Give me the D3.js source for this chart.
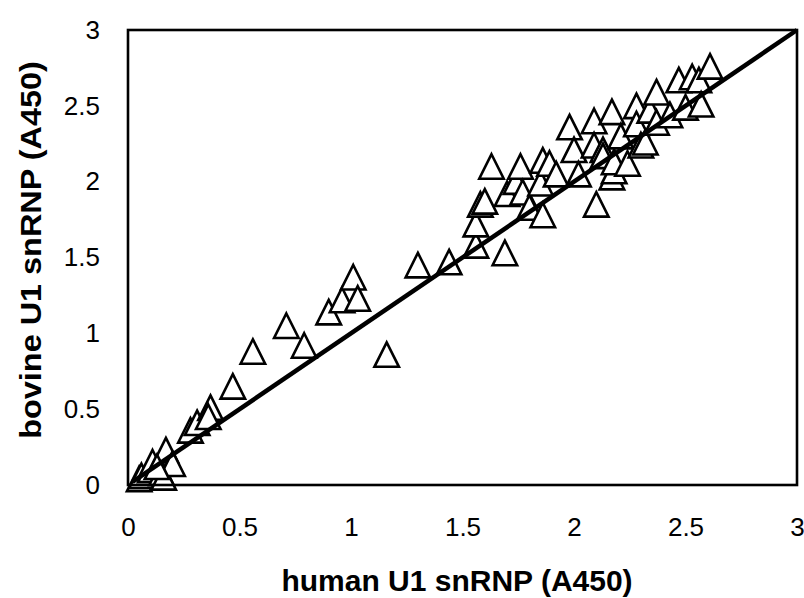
<!DOCTYPE html>
<html>
<head>
<meta charset="utf-8">
<script src="https://cdn.jsdelivr.net/npm/d3@7"></script>
<style>
  html, body { margin: 0; padding: 0; background: #fff; }
  svg { display: block; }
</style>
</head>
<body>
<svg id="chart" width="804" height="598"></svg>
<script>
// ---- data ----
const xTicks = [0, 0.5, 1, 1.5, 2, 2.5, 3];
const yTicks = [0, 0.5, 1, 1.5, 2, 2.5, 3];
const xTitle = "human U1 snRNP (A450)";
const yTitle = "bovine U1 snRNP (A450)";
const humanValues = [
  0.05, 0.06, 0.10, 0.11, 0.15, 0.16, 0.17, 0.20, 0.13,
  0.28, 0.31, 0.37, 0.36, 0.47,
  0.56, 0.71, 0.79, 0.90, 0.96, 1.01, 1.03, 1.16,
  1.30, 1.44,
  1.56, 1.56, 1.58, 1.60, 1.63, 1.69, 1.70, 1.74, 1.76, 1.77, 1.80, 1.85, 1.86, 1.86, 1.89, 1.92,
  1.98, 2.00, 2.02, 2.09, 2.09, 2.10, 2.13, 2.13, 2.17, 2.17, 2.18, 2.18, 2.21, 2.24,
  2.28, 2.28, 2.30, 2.32, 2.34, 2.37, 2.37, 2.43, 2.47, 2.50, 2.53, 2.56, 2.57, 2.61
];
const bovineValues = [
  0.04, 0.06, 0.10, 0.15, 0.08, 0.05, 0.23, 0.14, 0.12,
  0.36, 0.41, 0.51, 0.45, 0.65,
  0.88, 1.05, 0.92, 1.14, 1.22, 1.37, 1.23, 0.86,
  1.45, 1.47,
  1.58, 1.72, 1.85, 1.87, 2.10, 1.53, 1.92, 2.00, 2.10, 1.93, 1.83, 1.99, 1.78, 2.14, 2.12, 2.05,
  2.36, 2.21, 2.05, 2.40, 2.24, 1.85, 2.21, 2.17, 2.46, 2.03, 2.07, 2.13, 2.30, 2.12,
  2.50, 2.38, 2.24, 2.26, 2.47, 2.59, 2.39, 2.44, 2.67, 2.49, 2.69, 2.67, 2.51, 2.76
];
const fitLine = [[0.02, 0.02], [3, 3]];

// ---- layout ----
const svg = d3.select("#chart");
const L = 128, T = 30, R = 797, B = 485;
const x = d3.scaleLinear().domain([0, 3]).range([L, R]);
const y = d3.scaleLinear().domain([0, 3]).range([B, T]);

const points = humanValues.map((h, i) => ({ h, b: bovineValues[i] }));

// markers
const w = 24.5, hgt = 24.5;
svg.append("g").selectAll("path").data(points).join("path")
  .attr("transform", d => `translate(${x(d.h)},${y(d.b)})`)
  .attr("d", `M0,${-hgt/2}L${w/2},${hgt/2}L${-w/2},${hgt/2}Z`)
  .attr("fill", "#fff")
  .attr("stroke", "#000")
  .attr("stroke-width", 2.6)
  .attr("stroke-linejoin", "miter");

// fit line
svg.append("path")
  .datum(fitLine)
  .attr("d", d3.line().x(d => x(d[0])).y(d => y(d[1])))
  .attr("stroke", "#000")
  .attr("stroke-width", 4.5)
  .attr("fill", "none");

// frame
svg.append("rect")
  .attr("x", L).attr("y", T)
  .attr("width", R - L).attr("height", B - T)
  .attr("fill", "none").attr("stroke", "#000").attr("stroke-width", 2.6);

// axes
const xAxis = svg.append("g")
  .attr("transform", `translate(0,${B})`)
  .call(d3.axisBottom(x).tickValues(xTicks).tickSize(0).tickPadding(33).tickFormat(d3.format("")));
xAxis.select(".domain").remove();
xAxis.selectAll("text")
  .attr("font-family", "Liberation Sans, Arial, sans-serif")
  .attr("font-size", 26).attr("fill", "#000");

const yAxis = svg.append("g")
  .attr("transform", `translate(${L},0)`)
  .call(d3.axisLeft(y).tickValues(yTicks).tickSize(0).tickPadding(28).tickFormat(d3.format("")));
yAxis.select(".domain").remove();
yAxis.selectAll("text")
  .attr("font-family", "Liberation Sans, Arial, sans-serif")
  .attr("font-size", 26).attr("fill", "#000");

// titles
svg.append("text")
  .attr("x", 457).attr("y", 591)
  .attr("text-anchor", "middle")
  .attr("font-family", "Liberation Sans, Arial, sans-serif")
  .attr("font-weight", "bold").attr("font-size", 30)
  .text(xTitle);

svg.append("text")
  .attr("transform", "translate(41,250) rotate(-90) scale(1.08,1)")
  .attr("text-anchor", "middle")
  .attr("font-family", "Liberation Sans, Arial, sans-serif")
  .attr("font-weight", "bold").attr("font-size", 30)
  .text(yTitle);
</script>
</body>
</html>
